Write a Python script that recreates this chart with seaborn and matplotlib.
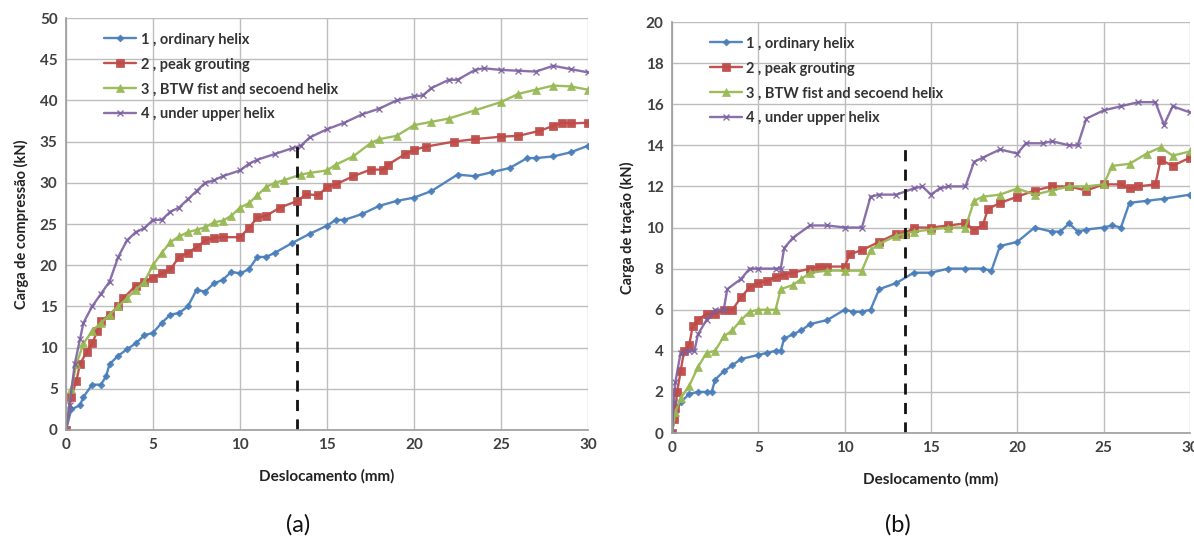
import numpy as np
import pandas as pd
import matplotlib
matplotlib.use("Agg")
import matplotlib.pyplot as plt
import seaborn as sns

labels = ["1 , ordinary helix", "2 , peak grouting",
          "3 , BTW fist and secoend helix", "4 , under upper helix"]

# ---- Panel (a): compression ----
a1_x = [0, 0.3, 0.8, 1, 1.5, 2, 2.3, 2.5, 3, 3.5, 4, 4.5, 5, 5.5, 6, 6.5, 7, 7.5, 8, 8.5, 9, 9.5, 10, 10.5, 11, 11.5, 12, 13, 14, 15, 15.5, 16, 17, 18, 19, 20, 21, 22.5, 23.5, 24.5, 25.5, 26.5, 27, 28, 29, 30]
a1_y = [0, 2.5, 3, 4, 5.5, 5.5, 6.5, 8, 9, 9.8, 10.5, 11.5, 11.8, 13, 14, 14.2, 15, 17, 16.8, 17.8, 18.2, 19.2, 19, 19.5, 21, 21, 21.5, 22.7, 23.8, 24.8, 25.5, 25.5, 26.2, 27.2, 27.8, 28.2, 29, 31, 30.8, 31.3, 31.8, 33, 33, 33.2, 33.7, 34.5]
a2_x = [0, 0.3, 0.6, 0.8, 1.2, 1.5, 1.8, 2, 2.5, 3, 3.3, 4, 4.5, 5, 5.5, 6, 6.5, 7, 7.5, 8, 8.5, 9, 10, 10.5, 11, 11.5, 12.3, 13.3, 13.8, 14.5, 15, 15.5, 16.5, 17.5, 18.2, 18.5, 19.5, 20, 20.7, 22.3, 23.5, 25, 26, 27.2, 28, 28.5, 29, 30]
a2_y = [0, 4, 6, 8, 9.5, 10.5, 12, 13.2, 14, 15, 16, 17.5, 18, 18.5, 19, 19.5, 21, 21.5, 22.2, 23, 23.3, 23.4, 23.4, 24.5, 25.8, 26, 27, 27.8, 28.6, 28.5, 29.5, 29.8, 30.8, 31.6, 31.6, 32.2, 33.5, 34, 34.4, 35, 35.3, 35.6, 35.7, 36.3, 36.9, 37.3, 37.2, 37.3]
a3_x = [0, 0.3, 0.6, 1, 1.5, 2, 2.5, 3, 3.5, 4, 4.5, 5, 5.5, 6, 6.5, 7, 7.5, 8, 8.5, 9, 9.5, 10, 10.5, 11, 11.5, 12, 12.5, 13.5, 14, 15, 15.5, 16.5, 17.5, 18, 19, 20, 21, 22, 23.5, 25, 26, 27, 28, 29, 30]
a3_y = [0, 5, 8, 10.5, 12, 13, 14, 15, 16, 17, 18, 20, 21.5, 22.8, 23.5, 24, 24.3, 24.6, 25.2, 25.4, 26, 27, 27.5, 28.5, 29.5, 30, 30.3, 31, 31.2, 31.5, 32.2, 33.2, 34.8, 35.3, 35.7, 37, 37.4, 37.8, 38.8, 39.8, 40.8, 41.3, 41.8, 41.7, 41.3]
a4_x = [0, 0.2, 0.5, 0.8, 1, 1.5, 2, 2.5, 3, 3.5, 4, 4.5, 5, 5.5, 6, 6.5, 7, 7.5, 8, 8.5, 9, 10, 10.5, 11, 12, 13, 13.5, 14, 15, 16, 17, 18, 19, 20, 20.5, 21, 22, 22.5, 23.5, 24, 25, 26, 27, 28, 29, 30]
a4_y = [0, 3, 8, 11, 13, 15, 16.5, 18, 21, 23, 24, 24.5, 25.5, 25.5, 26.5, 27, 28, 29, 30, 30.3, 30.8, 31.5, 32.3, 32.8, 33.5, 34.2, 34.5, 35.5, 36.5, 37.3, 38.3, 39, 40, 40.5, 40.6, 41.5, 42.5, 42.5, 43.7, 43.9, 43.7, 43.6, 43.5, 44.2, 43.8, 43.4]

# ---- Panel (b): tension ----
b1_x = [0, 0.2, 0.5, 1, 1.5, 2, 2.3, 2.5, 3, 3.5, 4, 5, 5.5, 6, 6.3, 6.5, 7, 7.5, 8, 9, 10, 10.5, 11, 11.5, 12, 13, 14, 15, 16, 17, 18, 18.5, 19, 20, 21, 22, 22.5, 23, 23.5, 24, 25, 25.5, 26, 26.5, 27.5, 28.5, 30]
b1_y = [0, 1, 1.5, 1.9, 2, 2, 2, 2.6, 3, 3.3, 3.6, 3.8, 3.9, 4, 4, 4.6, 4.8, 5, 5.3, 5.5, 6, 5.9, 5.9, 6, 7, 7.3, 7.8, 7.8, 8, 8, 8, 7.9, 9.1, 9.3, 10, 9.8, 9.8, 10.2, 9.8, 9.9, 10, 10.1, 10, 11.2, 11.3, 11.4, 11.6]
b2_x = [0, 0.1, 0.2, 0.3, 0.5, 0.7, 1, 1.2, 1.5, 2, 2.5, 3, 3.5, 4, 4.5, 5, 5.5, 6, 6.5, 7, 8, 8.5, 9, 10, 10.3, 11, 12, 13, 13.5, 14, 15, 16, 17, 17.5, 18, 18.3, 19, 20, 21, 22, 23, 24, 25, 26, 26.5, 27, 28, 28.3, 29, 30]
b2_y = [0, 0.7, 1.2, 2, 3, 4, 4.3, 5.2, 5.5, 5.8, 5.8, 6, 6, 6.6, 7.1, 7.3, 7.4, 7.6, 7.7, 7.8, 8, 8.1, 8.1, 8.1, 8.7, 8.9, 9.3, 9.7, 9.7, 10, 10, 10.1, 10.2, 9.9, 10.1, 10.9, 11.2, 11.5, 11.8, 12, 12, 11.8, 12.1, 12.1, 11.9, 12, 12.1, 13.3, 13, 13.4]
b3_x = [0, 0.2, 0.5, 1, 1.5, 2, 2.5, 3, 3.5, 4, 4.5, 5, 5.5, 6, 6.3, 7, 7.5, 8, 9, 10, 11, 11.5, 12, 13, 13.5, 14, 15, 16, 17, 17.5, 18, 19, 20, 21, 22, 23, 24, 25, 25.5, 26.5, 27.5, 28.3, 29, 30]
b3_y = [0, 1, 1.7, 2.3, 3.2, 3.9, 4, 4.7, 5, 5.5, 5.9, 6, 6, 6, 7, 7.2, 7.5, 7.8, 7.9, 7.9, 7.9, 8.9, 9.2, 9.6, 9.7, 9.8, 9.9, 10, 10, 11.3, 11.5, 11.6, 11.9, 11.6, 11.8, 12, 12, 12.1, 13, 13.1, 13.6, 13.9, 13.5, 13.7]
b4_x = [0, 0.1, 0.2, 0.5, 1, 1.3, 1.5, 2, 2.5, 3, 3.2, 4, 4.5, 5, 6, 6.3, 6.5, 7, 8, 9, 10, 11, 11.5, 12, 13, 14, 14.5, 15, 15.5, 16, 17, 17.5, 18, 19, 20, 20.5, 21.5, 22, 23, 23.5, 24, 25, 26, 27, 28, 28.5, 29, 30]
b4_y = [0, 1.5, 2.5, 3.9, 4, 4, 4.8, 5.5, 6, 6, 7, 7.5, 8, 8, 8, 8, 9, 9.5, 10.1, 10.1, 10, 10, 11.5, 11.6, 11.6, 11.9, 12, 11.6, 11.9, 12, 12, 13.2, 13.4, 13.8, 13.6, 14.1, 14.1, 14.2, 14, 14, 15.3, 15.7, 15.9, 16.1, 16.1, 15, 15.9, 15.6]

dash_a = 13.3
dash_a_top = 34.6
dash_b = 13.5
dash_b_top = 14.0

colors = ["#4A7EBB", "#BE4B48", "#98B954", "#7D60A0"]
markers = ["D", "s", "^", "x"]
msizes = [3.5, 5.5, 5.5, 5]

sns.set_theme(style="whitegrid")
plt.rcParams['font.family'] = ['Lato', 'DejaVu Sans']

fig = plt.figure(figsize=(11.94, 5.41), dpi=100)
ax_a = fig.add_axes([0.0553, 0.2052, 0.4372, 0.7615])
ax_b = fig.add_axes([0.5628, 0.1996, 0.4338, 0.7597])

def draw(ax, series, ymax, ystep, ylabel, dx, dtop):
    for i, (xs, ys) in enumerate(series):
        df = pd.DataFrame({"x": xs, "y": ys})
        sns.lineplot(data=df, x="x", y="y", ax=ax, color=colors[i],
                     marker=markers[i], markersize=msizes[i],
                     markeredgecolor=colors[i], markeredgewidth=1.0 if i == 3 else 0.5,
                     linewidth=1.7, label=labels[i], sort=False,
                     estimator=None, alpha=0.95 if i < 3 else 0.9)
    ax.plot([dx, dx], [0, dtop], color="#111111", linestyle=(0, (4, 3)), linewidth=2.0)
    ax.set_xlim(0, 30)
    ax.set_ylim(0, ymax)
    ax.set_xticks(np.arange(0, 31, 5))
    ax.set_yticks(np.arange(0, ymax + 0.01, ystep))
    ax.grid(True, color="#BDBDBD", linewidth=1.0)
    for s in ["top", "right"]:
        ax.spines[s].set_visible(False)
    for s in ["left", "bottom"]:
        ax.spines[s].set_visible(True)
        ax.spines[s].set_color("#A0A0A0")
    ax.tick_params(axis="both", labelsize=11, colors="#404040", pad=6, length=0)
    for t in ax.get_xticklabels() + ax.get_yticklabels():
        t.set_fontweight("bold")
    ax.set_xlabel("Deslocamento (mm)", fontsize=11, fontweight="bold", color="#222222", labelpad=12)
    ax.set_ylabel(ylabel, fontsize=10.5, fontweight="bold", color="#222222", labelpad=8)
    leg = ax.legend(loc="upper left", frameon=False, fontsize=10.5, handlelength=2.2,
                    handletextpad=0.3, labelspacing=0.75, borderaxespad=0.6,
                    bbox_to_anchor=(0.045, 1.0))
    for t in leg.get_texts():
        t.set_color("#333333")
        t.set_fontweight("bold")

draw(ax_a, [(a1_x, a1_y), (a2_x, a2_y), (a3_x, a3_y), (a4_x, a4_y)],
     50, 5, "Carga de compressão (kN)", dash_a, dash_a_top)
draw(ax_b, [(b1_x, b1_y), (b2_x, b2_y), (b3_x, b3_y), (b4_x, b4_y)],
     20, 2, "Carga de tração (kN)", dash_b, dash_b_top)

fig.text(298 / 1194, 1 - 525 / 541, "(a)", fontsize=17, ha="center", va="center", color="#111111")
fig.text(898 / 1194, 1 - 525 / 541, "(b)", fontsize=17, ha="center", va="center", color="#111111")

fig.savefig("out.png", dpi=100, facecolor="white")
